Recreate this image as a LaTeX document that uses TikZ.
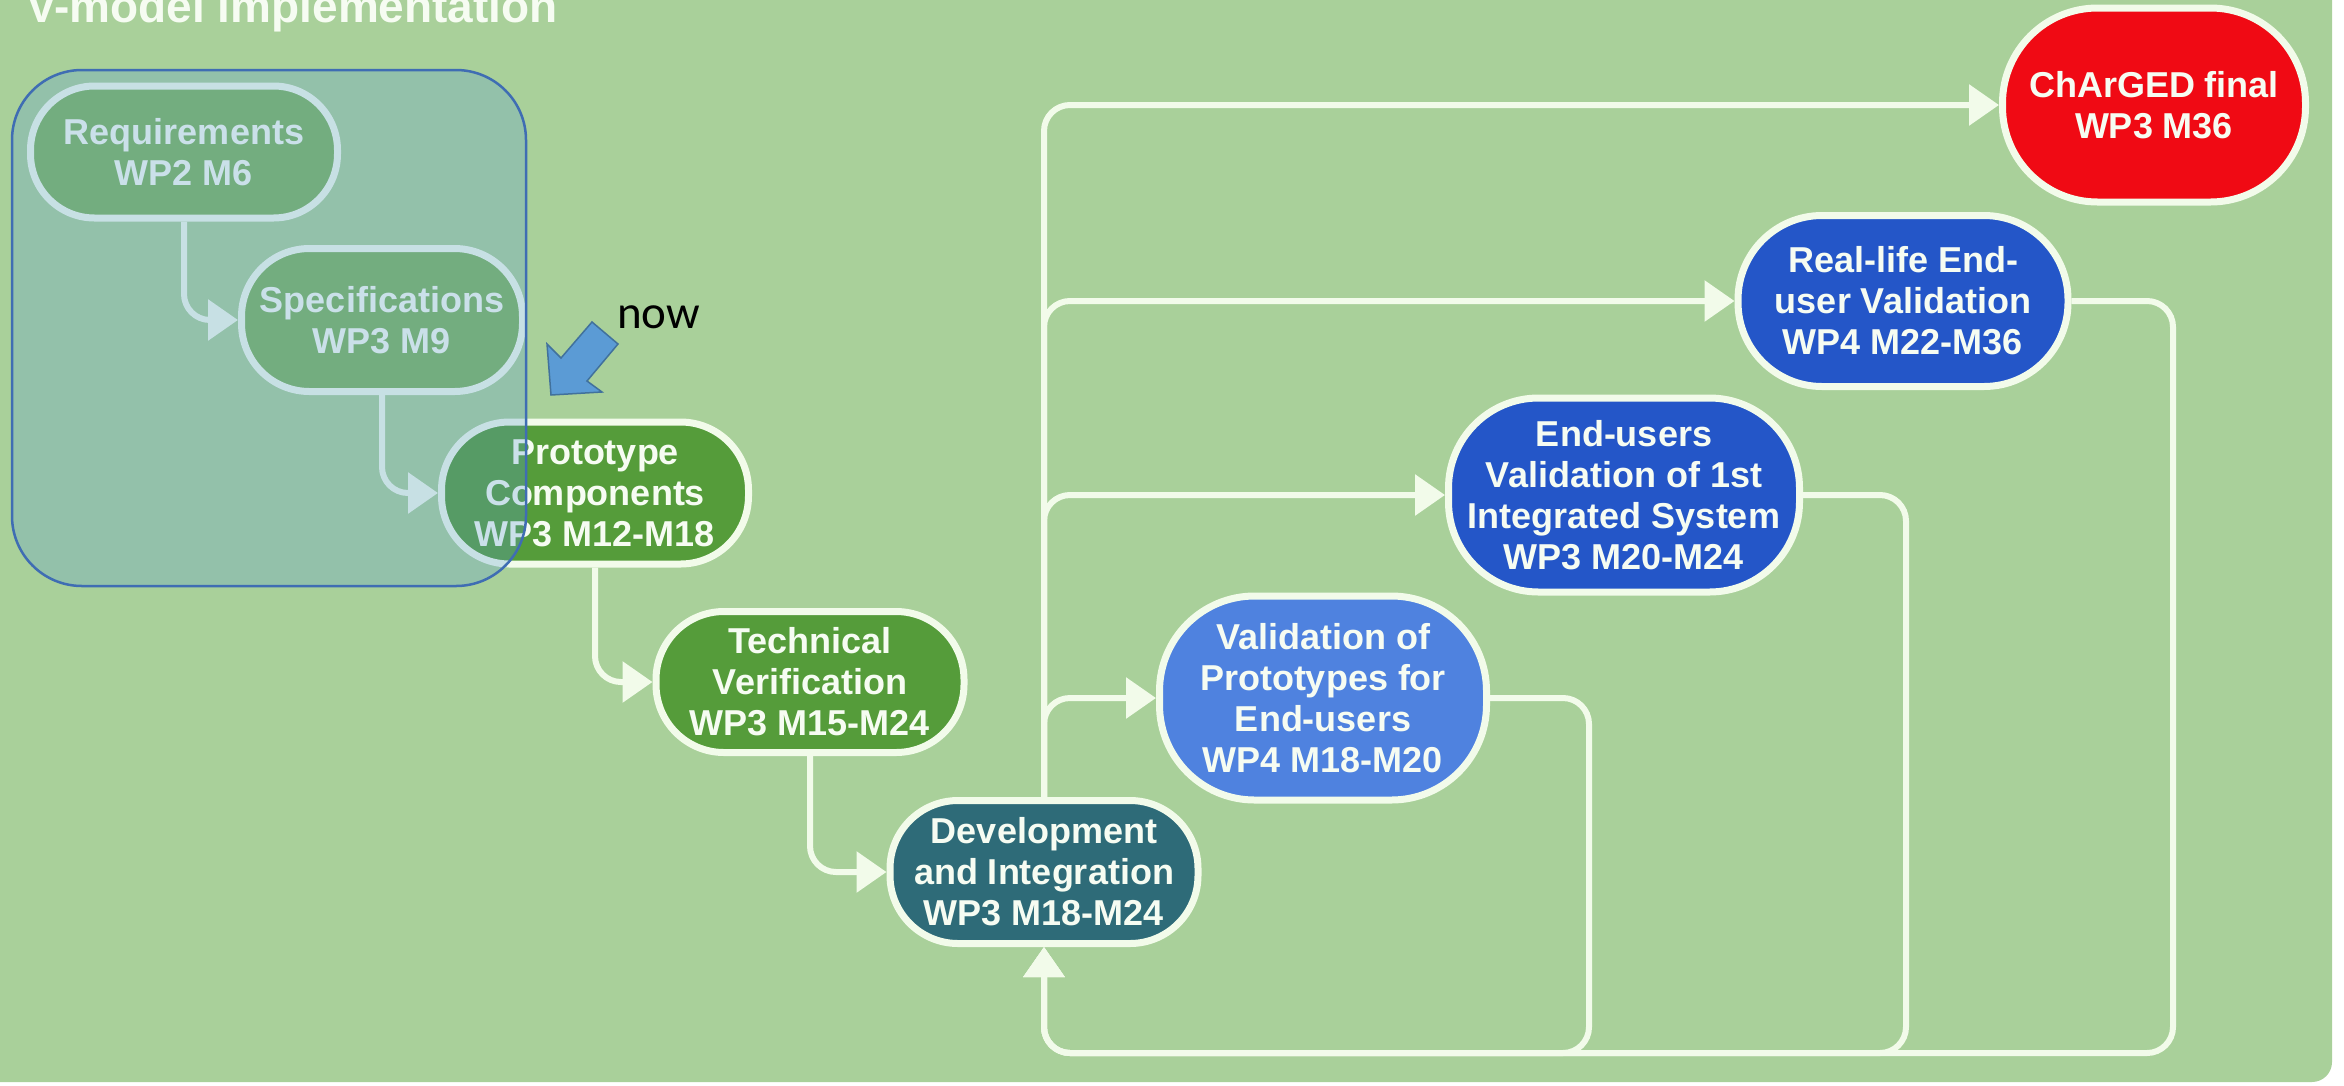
\documentclass[tikz,border=0pt]{standalone}
\usepackage{fontspec}
\setmainfont{Liberation Sans}
\newfontfamily\nowfont{Carlito}
\usetikzlibrary{arrows.meta}
\definecolor{bggreen}{HTML}{A9D09A}
\definecolor{linecol}{HTML}{F2FBEA}
\definecolor{txtcol}{HTML}{F6FCF2}
\definecolor{fadegreen}{HTML}{7DB45F}
\definecolor{protogreen}{HTML}{559C3A}
\definecolor{devteal}{HTML}{2E6B78}
\definecolor{lightblue}{HTML}{4F82DF}
\definecolor{darkblue}{HTML}{2456C8}
\definecolor{finalred}{HTML}{F00A14}
\definecolor{overlayblue}{HTML}{5B9BD5}
\definecolor{overlayedge}{HTML}{3F6DB3}
\definecolor{nowblue}{HTML}{5B9BD5}
\definecolor{nowedge}{HTML}{41719C}
\begin{document}
\begin{tikzpicture}[x=1pt,y=-1pt,
  phase/.style={draw=linecol, line width=7pt, text=txtcol, align=center,
    font=\bfseries\fontsize{36}{41}\selectfont, inner sep=0pt},
  conn/.style={draw=linecol, line width=6pt, rounded corners=26pt},
  arr/.style={-{Triangle[length=30pt,width=40pt]}},
]
\useasboundingbox (0,0) rectangle (2344,1085);
\fill[white] (0,0) rectangle (2344,1085);
\fill[bggreen] (0,0) -- (2332,0) [rounded corners=20pt] -- (2332,1082) [sharp corners] -- (0,1082) -- cycle;

\node[anchor=base west, inner sep=0pt, text=txtcol, font=\bfseries\fontsize{46}{50}\selectfont] (title) at (26,22) {V-model implementation};

% nodes
\node[phase, fill=fadegreen, minimum width=307pt, minimum height=132pt, rounded corners=64pt] (req) at (184,152) {Requirements\\WP2 M6};
\node[phase, fill=fadegreen, minimum width=281pt, minimum height=143pt, rounded corners=68pt] (spec) at (382,320) {Specifications\\WP3 M9};
\node[phase, fill=protogreen, minimum width=307pt, minimum height=142pt, rounded corners=68pt] (proto) at (595,493) {Prototype\\Components\\WP3 M12-M18};
\node[phase, fill=protogreen, minimum width=308pt, minimum height=141pt, rounded corners=68pt] (tech) at (810,682) {Technical\\Verification\\WP3 M15-M24};
\node[phase, fill=devteal, minimum width=308pt, minimum height=143pt, rounded corners=68pt] (dev) at (1044,872) {Development\\and Integration\\WP3 M18-M24};
\node[phase, fill=lightblue, minimum width=327pt, minimum height=204pt, rounded corners=95pt] (valp) at (1323,698) {Validation of\\Prototypes for\\End-users\\WP4 M18-M20};
\node[phase, fill=darkblue, minimum width=351pt, minimum height=194pt, rounded corners=90pt] (endu) at (1624,495) {End-users\\Validation of 1st\\Integrated System\\WP3 M20-M24};
\node[phase, fill=darkblue, minimum width=330pt, minimum height=171pt, rounded corners=84pt] (real) at (1903,301) {Real-life End-\\user Validation\\WP4 M22-M36};
\node[phase, fill=finalred, minimum width=303pt, minimum height=194pt, rounded corners=95pt] (final) at (2154,105) {ChArGED final\\WP3 M36};

% descending chain
\draw[conn, arr] (req.south) |- (spec.west);
\draw[conn, arr] (spec.south) |- (proto.west);
\draw[conn, arr] (proto.south) |- (tech.west);
\draw[conn, arr] (tech.south) |- (dev.west);

% trunk and branches
\draw[conn, arr] (dev.north) |- (valp.west);
\draw[conn, arr] (dev.north) |- (endu.west);
\draw[conn, arr] (dev.north) |- (real.west);
\draw[conn, arr] (dev.north) |- (final.west);

% returns
\coordinate (rv1) at (1589,1053);
\coordinate (rv2) at (1906,1053);
\coordinate (rv3) at (2173,1053);
\draw[conn, arr] (valp.east) -| (rv1) -| (dev.south);
\draw[conn, arr] (endu.east) -| (rv2) -| (dev.south);
\draw[conn, arr] (real.east) -| (rv3) -| (dev.south);

% overlay
\fill[overlayblue, fill opacity=0.28, rounded corners=70pt] (12,70) rectangle (526,586);
\draw[overlayedge, line width=2.5pt, rounded corners=70pt] (12,70) rectangle (526,586);

% now marker
\filldraw[fill=nowblue, draw=nowedge, line width=1.5pt] (551,395) -- (547,344) -- (561,358) -- (592,322) -- (618,344) -- (587,381) -- (602,392) -- cycle;
\node[anchor=base west, inner sep=0pt, font=\nowfont\fontsize{47}{50}\selectfont] (nowlbl) at (617,328) {now};
\end{tikzpicture}
\end{document}
